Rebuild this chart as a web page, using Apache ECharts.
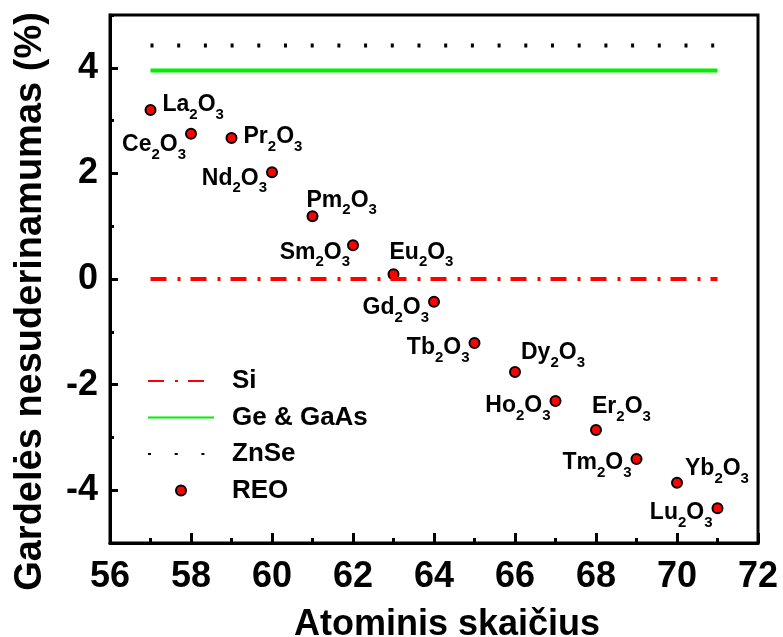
<!DOCTYPE html>
<html>
<head>
    <meta charset="utf-8">
    <title>Gardelės nesuderinamumas</title>
    <script src="https://cdn.jsdelivr.net/npm/echarts@6/dist/echarts.min.js"></script>
    <style>
        html, body { margin: 0; padding: 0; background: #fff; }
        #chart { width: 783px; height: 637px; }
    </style>
</head>
<body>
<div id="chart"></div>
<script>
    // duomenys
    var elements = ['La', 'Ce', 'Pr', 'Nd', 'Pm', 'Sm', 'Eu', 'Gd', 'Tb', 'Dy', 'Ho', 'Er', 'Tm', 'Yb', 'Lu'];
    var atomicNumbers = [57, 58, 59, 60, 61, 62, 63, 64, 65, 66, 67, 68, 69, 70, 71];
    var mismatch = [3.2, 2.75, 2.67, 2.02, 1.19, 0.64, 0.09, -0.43, -1.21, -1.76, -2.31, -2.86, -3.41, -3.86, -4.34];
    var lineSpan = [57, 71];
    var siLevel = [0, 0];
    var geLevel = [3.95, 3.95];
    var znseLevel = [4.42, 4.42];
    var xTicks = [56, 58, 60, 62, 64, 66, 68, 70, 72];
    var yTicks = [-4, -2, 0, 2, 4];

    // kur deti uzrasus prie tasku: [pozicija, dx, dy]
    var labelPlace = [
        ['right', 1, -5], ['left', 6, 11], ['right', 1, -1], ['left', 6, 6], ['right', -17, -16],
        ['left', 8, 7], ['right', -15, -22], ['left', 6, 6], ['left', 6, 5], ['right', -5, -19],
        ['left', 6, 5], ['right', -15, -23], ['left', 6, 4], ['right', -3, -14], ['left', 6, 5]
    ];

    var font = '"Liberation Sans", Arial, sans-serif';

    function pairs(xs, ys) {
        return xs.map(function (x, i) { return [x, ys[i]]; });
    }

    var reoData = atomicNumbers.map(function (z, i) {
        var p = labelPlace[i];
        return {
            value: [z, mismatch[i]],
            label: {
                position: p[0],
                offset: [p[1], p[2]],
                formatter: '{m|' + elements[i] + '}{s|2}{m|O}{s|3}'
            }
        };
    });

    var noSymbol = { opacity: 0 };

    var myChart = echarts.init(document.getElementById('chart'));
    myChart.setOption({
        animation: false,
        grid: {
            left: 110, right: 25, top: 15, bottom: 94,
            outerBoundsMode: 'none',
            show: true, borderColor: '#000', borderWidth: 3
        },
        legend: {
            orient: 'vertical',
            left: 142,
            top: 363,
            itemWidth: 66,
            itemHeight: 10,
            itemGap: 10.5,
            textStyle: {
                fontFamily: font, fontSize: 26, fontWeight: 'bold', color: '#000',
                lineHeight: 26, padding: [0, 0, 0, 13]
            },
            data: [
                { name: 'Si', itemStyle: noSymbol },
                { name: 'Ge & GaAs', itemStyle: noSymbol },
                { name: 'ZnSe', itemStyle: noSymbol },
                { name: 'REO' }
            ]
        },
        xAxis: {
            type: 'value',
            min: 56, max: 72, interval: 2,
            name: 'Atominis skaičius',
            nameLocation: 'middle',
            nameGap: 64,
            nameTextStyle: {
                fontFamily: font, fontSize: 36, fontWeight: 'bold', color: '#000',
                padding: [0, 0, 0, 26]
            },
            axisLine: { onZero: false, lineStyle: { color: '#000', width: 3 } },
            axisTick: { inside: true, length: 10, lineStyle: { color: '#000', width: 3 } },
            minorTick: { show: true, splitNumber: 2, length: 5, lineStyle: { color: '#000', width: 3 } },
            axisLabel: {
                fontFamily: font, fontSize: 36, fontWeight: 'bold', color: '#000', margin: 16,
                customValues: xTicks
            },
            splitLine: { show: false }
        },
        yAxis: [{
            type: 'value',
            min: -5, max: 5, interval: 1,
            name: 'Gardelės nesuderinamumas (%)',
            nameLocation: 'middle',
            nameGap: 60,
            nameTextStyle: {
                fontFamily: font, fontSize: 38, fontWeight: 'bold', color: '#000',
                padding: [0, 45, 0, 0]
            },
            axisLine: { onZero: false, lineStyle: { color: '#000', width: 3 } },
            axisTick: { inside: true, length: 4, lineStyle: { color: '#000', width: 3 } },
            axisLabel: {
                fontFamily: font, fontSize: 36, fontWeight: 'bold', color: '#000', margin: 12,
                customValues: yTicks
            },
            splitLine: { show: false }
        }, {
            type: 'value',
            position: 'left',
            min: -5, max: 5, interval: 1,
            axisLine: { show: false },
            axisTick: { inside: true, length: 8, customValues: yTicks, lineStyle: { color: '#000', width: 3 } },
            axisLabel: { show: false },
            splitLine: { show: false }
        }],
        series: [{
            name: 'Si',
            type: 'line',
            symbol: 'none',
            data: pairs(lineSpan, siLevel),
            lineStyle: { color: '#ff0000', width: 4, type: [16, 11, 3, 10], cap: 'butt' },
            itemStyle: { color: '#ff0000' }
        }, {
            name: 'Ge & GaAs',
            type: 'line',
            symbol: 'none',
            data: pairs(lineSpan, geLevel),
            lineStyle: { color: '#00f000', width: 4 },
            itemStyle: { color: '#00f000' }
        }, {
            name: 'ZnSe',
            type: 'line',
            symbol: 'none',
            data: pairs(lineSpan, znseLevel),
            lineStyle: { color: '#000', width: 4, type: [3, 23.7], cap: 'butt' },
            itemStyle: { color: '#000' }
        }, {
            name: 'REO',
            type: 'scatter',
            symbol: 'circle',
            symbolSize: 10,
            data: reoData,
            itemStyle: { color: '#ff0000', borderColor: '#000', borderWidth: 2, opacity: 1 },
            label: {
                show: true,
                distance: 5,
                color: '#000',
                rich: {
                    m: { fontFamily: font, fontSize: 23, fontWeight: 'bold', color: '#000', lineHeight: 35, verticalAlign: 'middle' },
                    s: { fontFamily: font, fontSize: 15, fontWeight: 'bold', color: '#000', lineHeight: 15, verticalAlign: 'bottom' }
                }
            },
            emphasis: { disabled: true }
        }]
    });
</script>
</body>
</html>
